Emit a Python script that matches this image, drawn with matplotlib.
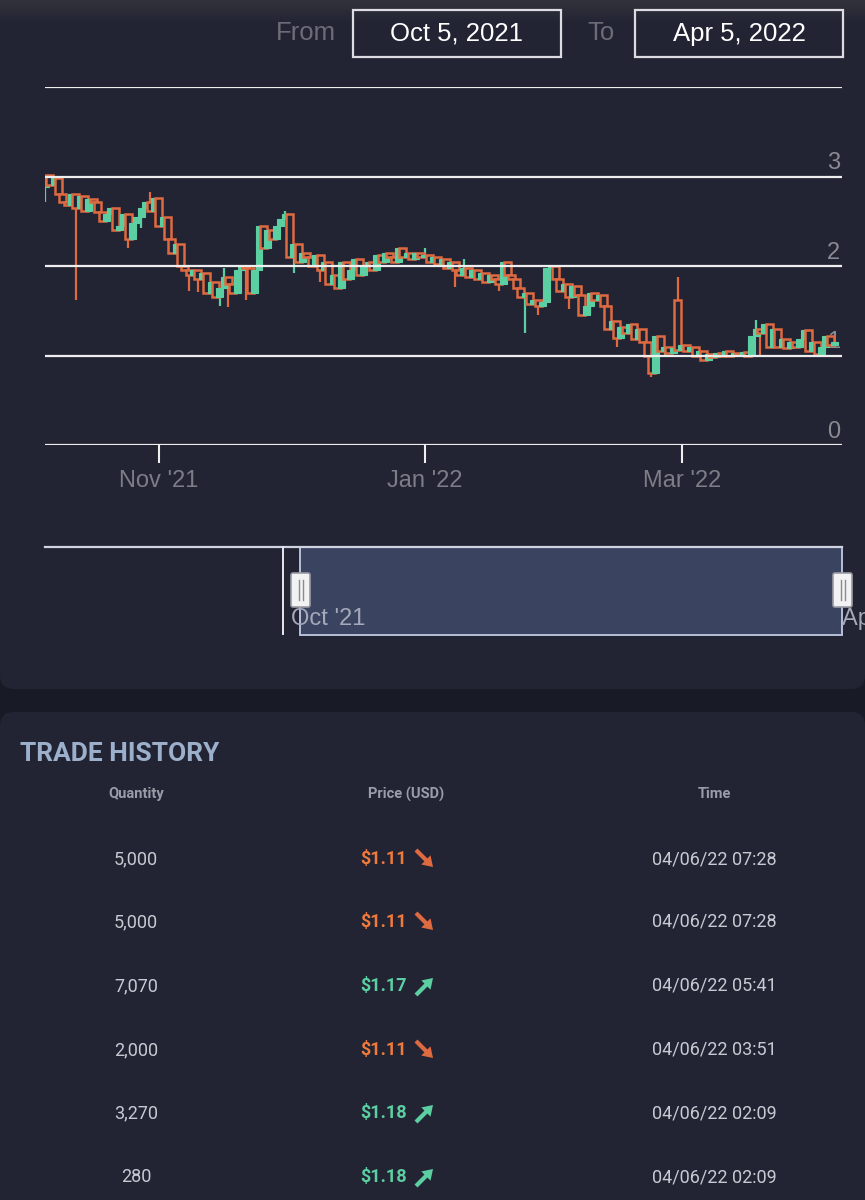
import numpy as np
import matplotlib
matplotlib.use("Agg")
import matplotlib.pyplot as plt
import matplotlib.dates as mdates
from matplotlib.patches import Rectangle, FancyBboxPatch, FancyArrow
from datetime import date, timedelta

# colours
BG = "#222434"
GAP = "#181a25"
RED = "#e06a40"
GREEN = "#5ccfa2"
GRID = "#eeeeee"
LABEL = "#7d7d87"

# daily closes, Oct 6 2021 -> Apr 5 2022
closes = [3.02, 2.9, 2.98, 2.8, 2.72, 2.68, 2.8, 2.65, 2.78, 2.62,
          2.75, 2.72, 2.6, 2.5, 2.58, 2.65, 2.4, 2.45, 2.58, 2.3,
          2.48, 2.55, 2.65, 2.72, 2.62, 2.76, 2.45, 2.55, 2.3, 2.15,
          2.25, 2.0, 1.95, 1.9, 1.96, 1.85, 1.92, 1.7, 1.82, 1.65,
          1.75, 1.88, 1.8, 1.7, 1.95, 2.0, 1.98, 1.7, 1.95, 2.45,
          2.2, 2.4, 2.3, 2.45, 2.52, 2.58, 2.1, 2.25, 2.05, 2.15,
          2.1, 2.0, 2.12, 1.95, 2.05, 1.8, 1.9, 1.75, 2.05, 1.85,
          1.95, 2.08, 1.9, 2.0, 2.05, 1.95, 2.12, 2.05, 2.15, 2.1,
          2.05, 2.2, 2.1, 2.15, 2.08, 2.15, 2.1, 2.12, 2.05, 2.1,
          2.02, 2.08, 1.98, 2.05, 1.95, 1.9, 1.98, 1.88, 1.95, 1.85,
          1.92, 1.82, 1.9, 1.85, 1.8, 2.05, 1.9, 1.85, 1.75, 1.65,
          1.7, 1.58, 1.62, 1.55, 1.6, 1.98, 2.0, 1.85, 1.72, 1.8,
          1.65, 1.78, 1.68, 1.45, 1.55, 1.7, 1.62, 1.68, 1.55, 1.3,
          1.38, 1.2, 1.32, 1.25, 1.35, 1.18, 1.3, 1.15, 1.0, 0.8,
          1.22, 1.05, 1.1, 1.03, 1.08, 1.06, 1.12, 1.05, 1.1, 1.0,
          1.05, 0.95, 1.02, 0.98, 1.03, 1.0, 1.05, 1.0, 1.03, 1.01,
          1.04, 1.0, 1.22, 1.3, 1.25, 1.35, 1.1, 1.3, 1.1, 1.18,
          1.08, 1.15, 1.1, 1.18, 1.28, 1.05, 1.15, 1.02, 1.1, 1.22,
          1.12, 1.15]
first_open = 2.88
open_overrides = {145: 1.62}
wick_lows = {0: 2.72, 7: 1.62, 19: 2.2, 22: 2.42, 33: 1.72, 35: 1.71, 40: 1.55, 42: 1.54,
             44: 1.72, 46: 1.62, 57: 1.92, 63: 1.82, 94: 1.76, 104: 1.72, 110: 1.25,
             113: 1.45, 120: 1.52, 125: 1.48, 131: 1.1, 139: 0.76, 142: 0.98, 164: 0.98}
wick_highs = {24: 2.83, 41: 1.98, 55: 2.62, 87: 2.2, 96: 2.08, 145: 1.88, 163: 1.4}

y_ticks = [0, 1, 2, 3, 4]
y_labels = ["0", "1", "2", "3", ""]
x_tick_dates = [date(2021, 11, 1), date(2022, 1, 1), date(2022, 3, 1)]
x_tick_labels = ["Nov '21", "Jan '22", "Mar '22"]

# trade history table
quantities = ["5,000", "5,000", "7,070", "2,000", "3,270", "280"]
prices = ["$1.11", "$1.11", "$1.17", "$1.11", "$1.18", "$1.18"]
directions = ["down", "down", "up", "down", "up", "up"]
times = ["04/06/22 07:28", "04/06/22 07:28", "04/06/22 05:41",
         "04/06/22 03:51", "04/06/22 02:09", "04/06/22 02:09"]

opens = [first_open] + closes[:-1]
for i, v in open_overrides.items():
    opens[i] = v

fig = plt.figure(figsize=(8.65, 12), dpi=100)
fig.patch.set_facecolor(GAP)

# full-figure pixel axes for the page furniture
bg = fig.add_axes([0, 0, 1, 1], zorder=0)
bg.set_xlim(0, 865)
bg.set_ylim(1200, 0)
bg.axis("off")

bg.add_patch(FancyBboxPatch((0, -40), 865, 729, boxstyle="round,pad=0,rounding_size=14",
                            facecolor=BG, edgecolor="none"))
bg.add_patch(FancyBboxPatch((0, 712), 865, 540, boxstyle="round,pad=0,rounding_size=14",
                            facecolor=BG, edgecolor="none"))
# top shadow
shade = np.linspace(1, 0, 30).reshape(-1, 1)
bg.imshow(np.dstack([np.full_like(shade, 0.25)] * 3 + [shade * 0.55]),
          extent=(0, 865, 24, 0), aspect="auto", zorder=1)

# header: date range inputs
hfont = dict(family="Liberation Sans", fontsize=18.5)
bg.text(336, 33, "From", ha="right", va="center", color="#6c6c76", **hfont)
bg.text(615, 33, "To", ha="right", va="center", color="#6c6c76", **hfont)
for x0, label in [(353, "Oct 5, 2021"), (635, "Apr 5, 2022")]:
    bg.add_patch(Rectangle((x0, 10), 208, 47, facecolor="none", edgecolor="#dcdce2", lw=1.6))
    bg.text(x0 + 104, 34, label, ha="center", va="center", color="white", **hfont)

# candlestick chart
ax = fig.add_axes([45 / 865, 1 - 445 / 1200, 797 / 865, 358 / 1200], zorder=2)
ax.patch.set_alpha(0)
xs = mdates.date2num([date(2021, 10, 6) + timedelta(days=i) for i in range(len(closes))])
base = mdates.date2num(date(2021, 10, 5))
ax.set_xlim(base + 0.92, base + 183.7)
ax.set_ylim(0, 4)

for i, (x, o, c) in enumerate(zip(xs, opens, closes)):
    up = c >= o
    col = GREEN if up else RED
    lo = wick_lows.get(i, min(o, c))
    hi = wick_highs.get(i, max(o, c))
    ax.vlines(x, lo, hi, color=col, lw=1.6, zorder=2)
    if up:
        ax.bar(x, c - o, bottom=o, width=1.6, color=GREEN, edgecolor=GREEN, lw=0.8, zorder=3)
    else:
        ax.bar(x, o - c, bottom=c, width=1.6, facecolor=BG, edgecolor=RED, lw=1.8, zorder=3)

for y, lab in zip(y_ticks, y_labels):
    ax.axhline(y, color=GRID, lw=1.6, zorder=5)
    ax.text(0.998, y + 0.025, lab, transform=ax.get_yaxis_transform(), ha="right", va="bottom",
            color="#8a8a92", fontsize=17, family="Liberation Sans", zorder=1)

for s in ax.spines.values():
    s.set_visible(False)
ax.set_yticks([])
ax.set_xticks(mdates.date2num(x_tick_dates))
ax.set_xticklabels(x_tick_labels)
ax.tick_params(axis="x", length=13, width=1.5, color=GRID, pad=5, labelsize=17, labelcolor=LABEL)
for t in ax.get_xticklabels():
    t.set_family("Liberation Sans")

# navigator
bg.plot([45, 842], [547, 547], color="#d0d4e0", lw=1.6)
bg.add_patch(Rectangle((300, 547), 542, 88, facecolor="#3a4461", edgecolor="#b8c0d8", lw=1.4))
bg.plot([283, 283], [547, 634], color="#e8e8ee", lw=1.4)
for hx in [291, 833]:
    bg.add_patch(FancyBboxPatch((hx, 573), 19, 34, boxstyle="round,pad=0,rounding_size=2",
                                facecolor="#f2f2f4", edgecolor="#9a9aa2", lw=1.2, zorder=4))
    bg.plot([hx + 7.5, hx + 7.5], [580, 600], color="#8a8a90", lw=1, zorder=5)
    bg.plot([hx + 11.5, hx + 11.5], [580, 600], color="#8a8a90", lw=1, zorder=5)
bg.text(291, 619, "Oct '21", ha="left", va="center", color="#a4a8b8", fontsize=17,
        family="Liberation Sans", zorder=3)
# the right label runs off the screenshot's edge, as in the original
bg.text(842, 619, "Apr '22", ha="left", va="center", color="#a4a8b8", fontsize=17,
        family="Liberation Sans", zorder=3)

# trade history
bg.text(20, 754, "TRADE HISTORY", ha="left", va="center", color="#9cb0cc", fontsize=19,
        family="Roboto", fontweight="bold")
for cx, head in [(136, "Quantity"), (406, "Price (USD)"), (714, "Time")]:
    bg.text(cx, 794, head, ha="center", va="center", color="#9a9ca8", fontsize=10.5,
            family="Roboto", fontweight="bold")

row_y = [859, 922, 986, 1050, 1113, 1177]
for ry, q, p, d, t in zip(row_y, quantities, prices, directions, times):
    col = GREEN if d == "up" else "#ee7a3c"
    bg.text(136, ry, q, ha="center", va="center", color="#c8cad2", fontsize=13, family="Roboto")
    bg.text(407, ry, p, ha="right", va="center", color=col, fontsize=13, family="Roboto",
            fontweight="bold")
    bg.text(714, ry, t, ha="center", va="center", color="#c8cad2", fontsize=13, family="Roboto")
    if d == "up":
        bg.add_patch(FancyArrow(416, ry + 9, 17, -17, width=4.2, head_width=13, head_length=10,
                                length_includes_head=True, color=GREEN, lw=0))
    else:
        bg.add_patch(FancyArrow(416, ry - 9, 17, 17, width=4.2, head_width=13, head_length=10,
                                length_includes_head=True, color=RED, lw=0))

fig.savefig("out.png", dpi=100, facecolor=fig.get_facecolor())
